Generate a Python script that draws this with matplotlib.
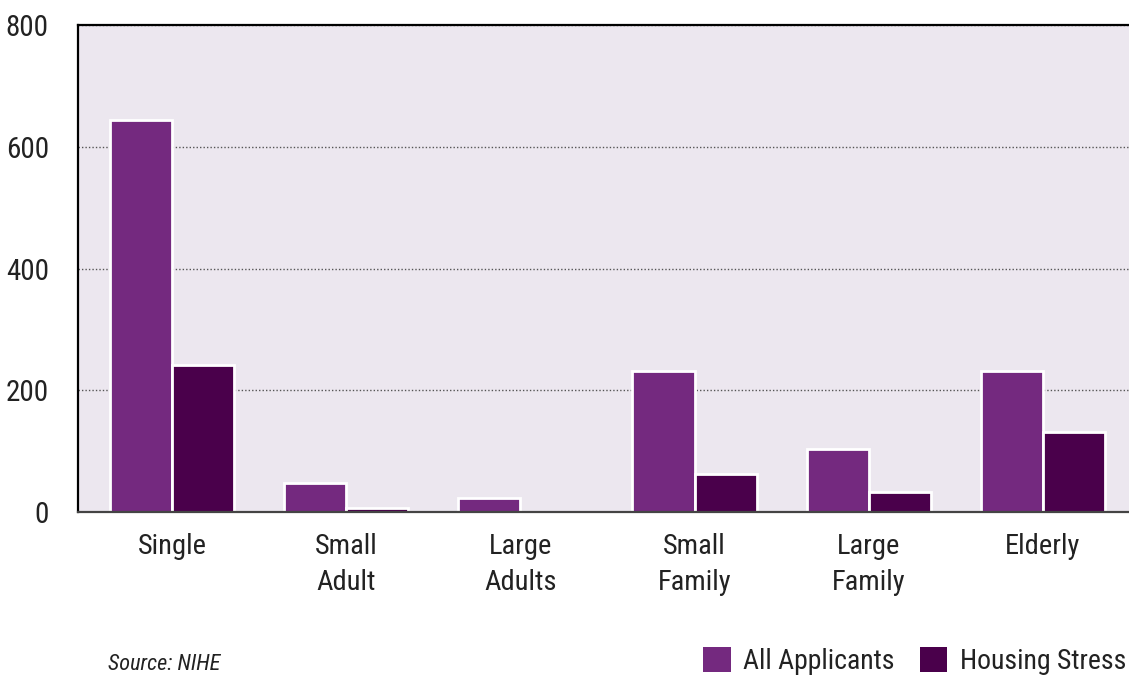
import matplotlib.pyplot as plt
import numpy as np

categories = ['Single', 'Small\nAdult', 'Large\nAdults', 'Small\nFamily', 'Large\nFamily', 'Elderly']
all_applicants = [644, 48, 23, 232, 103, 232]
housing_stress = [241, 7, 0, 62, 33, 131]
yticks = [0, 200, 400, 600, 800]

plt.rcParams['font.family'] = ['Roboto Condensed', 'Liberation Sans Narrow', 'Roboto', 'DejaVu Sans']

fig = plt.figure(figsize=(11.29, 6.75), dpi=100)
ax = fig.add_axes([78 / 1129, 163 / 675, 1051 / 1129, 487 / 675])
ax.set_facecolor('#ECE7EF')

x = np.arange(len(categories))
w = 0.357
ax.bar(x - w / 2, all_applicants, w, color='#74297F', edgecolor='white', linewidth=2, label='All Applicants')
ax.bar(x + w / 2, housing_stress, w, color='#4A004B', edgecolor='white', linewidth=2, label='Housing Stress')

ax.set_xlim(-0.54, 5.494)
ax.set_ylim(0, 800)
ax.set_yticks(yticks)
ax.set_xticks(x)
ax.set_xticklabels(categories, fontsize=20.5, color='#222222', linespacing=1.45)
ax.tick_params(axis='y', length=0, pad=21, labelsize=21, labelcolor='#222222')
ax.tick_params(axis='x', length=0, pad=15)
ax.yaxis.grid(True, linestyle=(0, (1, 1.5)), color='#555555', linewidth=1)
ax.set_axisbelow(True)

ax.spines['right'].set_visible(False)
ax.spines['top'].set_linewidth(1.6)
ax.spines['left'].set_linewidth(1.6)
ax.spines['bottom'].set_color('#444444')
ax.spines['bottom'].set_linewidth(1.6)

fig.text(108 / 1129, 5 / 675, 'Source: NIHE', fontsize=16, style='italic', color='#222222')
leg = fig.legend(loc='lower right', bbox_to_anchor=(1.0, -0.004), ncol=2, frameon=False, fontsize=20,
                 handlelength=1.0, handleheight=1.0, handletextpad=0.45, columnspacing=0.9,
                 borderaxespad=0.0, borderpad=0.1, labelcolor='#222222')
for h in leg.legend_handles:
    h.set_linewidth(0)

plt.savefig('out.png', dpi=100)
